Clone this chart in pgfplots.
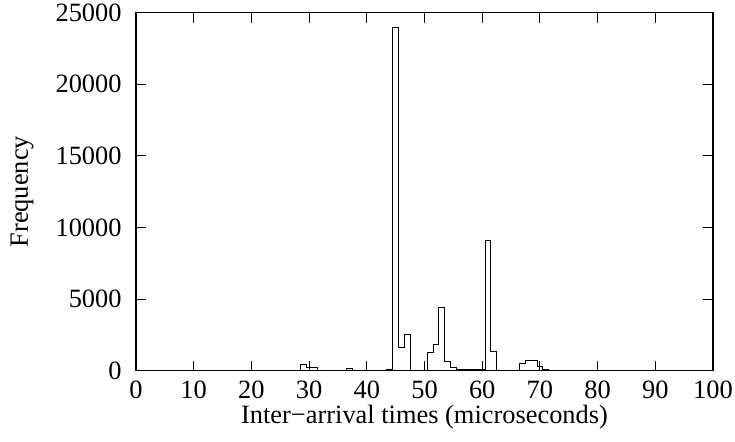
\documentclass[border=0pt]{standalone}
\usepackage{fontspec}
\setmainfont{Liberation Serif}
\usepackage{pgfplots}
\pgfplotsset{compat=1.18}
\begin{document}
\fontsize{13.2bp}{15bp}\selectfont
\begin{tikzpicture}
\path[use as bounding box] (-68bp,-35.65bp) rectangle (299.5bp,185.35bp);
\begin{axis}[
  at={(0,0)}, anchor=south west,
  scale only axis,
  width=288.5bp, height=179bp,
  xmin=0, xmax=100, ymin=0, ymax=25000,
  xtick={0,10,...,100},
  ytick={0,5000,10000,15000,20000,25000},
  scaled y ticks=false,
  /pgf/number format/assume math mode=true,
  /pgf/number format/1000 sep={},
  tick align=inside,
  major tick length=5bp,
  axis line style={line width=0.6pt},
  every tick/.style={black, line width=0.5pt},
  tick label style={font=\fontsize{13.2bp}{15bp}\selectfont},
  xticklabel style={anchor=base, inner sep=0pt, yshift=-14bp},
  yticklabel style={anchor=east, inner sep=0pt, xshift=-7bp},
  xlabel={Inter−arrival times (microseconds)},
  ylabel={Frequency},
  label style={font=\fontsize{13.2bp}{15bp}\selectfont},
  every axis x label/.style={at={(axis description cs:0.5,0)}, anchor=base, inner sep=0pt, yshift=-26.3bp},
  every axis y label/.style={at={(axis description cs:0,0.5)}, xshift=-57bp, rotate=90, anchor=center, inner sep=0pt},
]
\addplot[const plot mark left, black, line width=0.5pt] coordinates {
(0,0) (27.5,20) (28.5,420) (29.5,250) (31.5,20) (32.5,30) (34.5,20)
(35.5,30) (36.5,140) (37.5,30) (38.5,20) (41.5,30) (42.5,40) (43.5,80)
(44.5,24000) (45.5,1650) (46.5,2500) (47.5,30) (50.5,1300) (51.5,1800)
(52.5,4380) (53.5,650) (54.5,200) (55.5,100) (56.5,50) (58.5,100)
(59.5,50) (60.5,9080) (61.5,1330) (62.5,20) (63.5,30) (66.5,520)
(67.5,690) (69.5,280) (70.5,100) (71.5,20) (72.5,10) (80.5,0) (100,0)
};
\end{axis}
\end{tikzpicture}
\end{document}
